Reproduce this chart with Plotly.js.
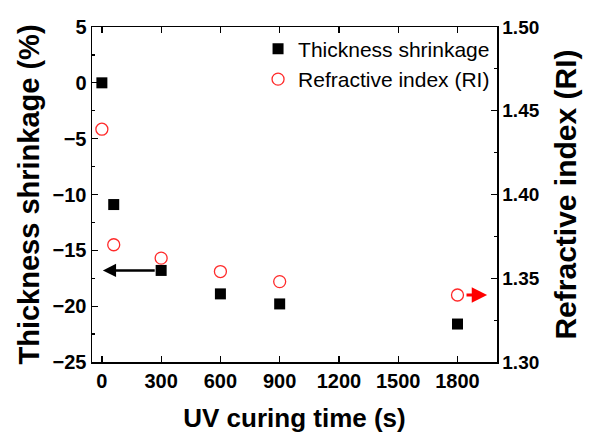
<!DOCTYPE html>
<html>
<head>
<meta charset="utf-8">
<script src="https://cdn.plot.ly/plotly-3.0.1.min.js"></script>
<style>html,body{margin:0;padding:0;background:#fff;}#chart{width:589px;height:434px;}</style>
</head>
<body>
<div id="chart"></div>
<script>
// Data
const curingTime = [0, 60, 300, 600, 900, 1800];            // UV curing time (s)
const thicknessShrinkage = [0, -10.9, -16.8, -18.9, -19.8, -21.6]; // %
const refractiveIndex = [1.439, 1.370, 1.362, 1.354, 1.348, 1.340]; // RI
const xTickVals = [0, 300, 600, 900, 1200, 1500, 1800];
const seriesNames = ['Thickness shrinkage', 'Refractive index (RI)'];

const FONT = 'Liberation Sans, Arial, Helvetica, sans-serif';

const traces = [
  {
    x: curingTime, y: thicknessShrinkage, name: seriesNames[0],
    type: 'scatter', mode: 'markers', yaxis: 'y',
    marker: {symbol: 'square', size: 11, color: '#000000'}
  },
  {
    x: curingTime, y: refractiveIndex, name: seriesNames[1],
    type: 'scatter', mode: 'markers', yaxis: 'y2',
    marker: {symbol: 'circle-open', size: 12, color: '#ff2a2a', line: {width: 1.3, color: '#ff2a2a'}}
  }
];

const lastIdx = curingTime.length - 1;
const layout = {
  width: 589, height: 434,
  margin: {l: 92, r: 92, t: 27, b: 72, pad: 0},
  paper_bgcolor: '#ffffff', plot_bgcolor: '#ffffff',
  font: {family: FONT, color: '#000000'},
  showlegend: true,
  legend: {
    x: 0.41, xanchor: 'left', y: 0.995, yanchor: 'top',
    bgcolor: 'rgba(0,0,0,0)', borderwidth: 0,
    font: {family: FONT, size: 21, color: '#000000'},
    tracegroupgap: 0, itemsizing: 'trace'
  },
  xaxis: {
    range: [-50, 2000], tickvals: xTickVals, ticktext: xTickVals.map(String),
    ticks: 'inside', ticklen: 6, tickwidth: 1.3, tickcolor: '#000',
    showline: true, linewidth: 1.5, linecolor: '#000', mirror: 'ticks',
    showgrid: false, zeroline: false,
    tickfont: {family: FONT, size: 20, weight: 'bold', color: '#000'},
    title: {text: 'UV curing time (s)', font: {family: FONT, size: 26, weight: 'bold', color: '#000'}, standoff: 18}
  },
  yaxis: {
    range: [-25, 5], dtick: 5, tick0: 0,
    ticks: 'inside', ticklen: 6, tickwidth: 1.3, tickcolor: '#000',
    minor: {ticks: 'inside', ticklen: 3, dtick: 2.5, tickwidth: 1.2, tickcolor: '#000', showgrid: false},
    showline: true, linewidth: 1.5, linecolor: '#000',
    showgrid: false, zeroline: false,
    tickfont: {family: FONT, size: 20, weight: 'bold', color: '#000'},
    title: {text: 'Thickness shrinkage (%)', font: {family: FONT, size: 29, weight: 'bold', color: '#000'}, standoff: 4}
  },
  yaxis2: {
    overlaying: 'y', side: 'right', anchor: 'x',
    range: [1.30, 1.50], dtick: 0.05, tick0: 1.30, tickformat: '.2f',
    ticks: 'inside', ticklen: 6, tickwidth: 1.3, tickcolor: '#000',
    minor: {ticks: 'inside', ticklen: 3, dtick: 0.025, tickwidth: 1.2, tickcolor: '#000', showgrid: false},
    showline: true, linewidth: 1.5, linecolor: '#000',
    showgrid: false, zeroline: false,
    tickfont: {family: FONT, size: 19, weight: 'bold', color: '#000'},
    title: {text: 'Refractive index (RI)', font: {family: FONT, size: 30, weight: 'bold', color: '#000'}, standoff: 16}
  },
  annotations: [
    { // arrow pointing to the left axis from the shrinkage point at 300 s
      xref: 'x', yref: 'y', axref: 'x', ayref: 'y',
      x: 5, y: thicknessShrinkage[2], ax: curingTime[2] - 25, ay: thicknessShrinkage[2],
      text: '', showarrow: true, arrowhead: 2, arrowsize: 1.1, arrowwidth: 2.4, arrowcolor: '#000', standoff: 0
    },
    { // arrow pointing to the right axis from the RI point at 1800 s
      xref: 'x', yref: 'y2', axref: 'x', ayref: 'y2',
      x: 1950, y: refractiveIndex[lastIdx], ax: curingTime[lastIdx] + 38, ay: refractiveIndex[lastIdx],
      text: '', showarrow: true, arrowhead: 2, arrowsize: 1.1, arrowwidth: 2.8, arrowcolor: '#ff0000', standoff: 0
    }
  ]
};

Plotly.newPlot('chart', traces, layout, {displayModeBar: false, staticPlot: true});
</script>
</body>
</html>
